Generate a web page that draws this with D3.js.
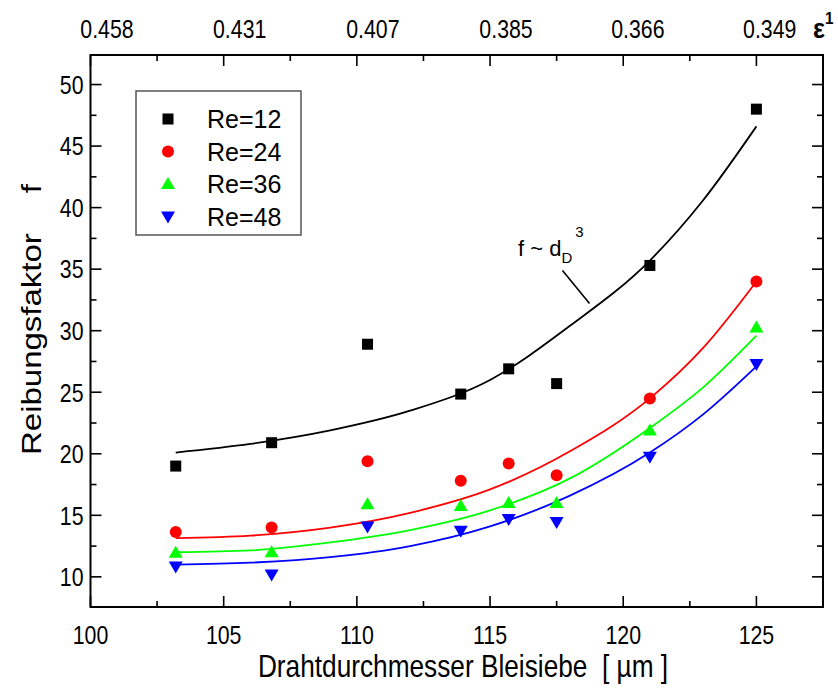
<!DOCTYPE html>
<html><head><meta charset="utf-8">
<script src="https://cdn.jsdelivr.net/npm/d3@7"></script>
<style>
body{margin:0;background:#fff;}
svg{display:block;font-family:"Liberation Sans",Arial,sans-serif;}
</style></head>
<body>
<script>
// ---- data ----
const diameters = [103.2, 106.8, 110.4, 113.9, 115.7, 117.5, 121.0, 125.0];
const re12 = [19.0, 20.9, 28.9, 24.85, 26.9, 25.7, 35.3, 48.0];
const re24 = [13.65, 14.0, 19.4, 17.8, 19.2, 18.25, 24.5, 34.0];
const re36 = [11.95, 12.0, 15.9, 15.75, 16.0, 16.0, 21.9, 30.25];
const re48 = [10.85, 10.2, 14.1, 13.75, 14.7, 14.45, 19.75, 27.3];
const seriesNames = ["Re=12", "Re=24", "Re=36", "Re=48"];
// fitted curves
const fitX = [103.2, 106, 109, 112, 115, 118, 121, 123, 125];
const fit12 = [20.1, 20.8, 21.9, 23.5, 26.0, 30.4, 35.7, 40.6, 46.6];
const fit24 = [13.15, 13.35, 14.0, 15.2, 17.1, 20.2, 24.5, 28.6, 34.0];
const fit36 = [12.0, 12.15, 12.8, 13.8, 15.4, 18.0, 22.1, 25.4, 29.6];
const fit48 = [11.0, 11.15, 11.6, 12.5, 14.1, 16.6, 20.1, 23.2, 27.1];
const xTicks = [100, 105, 110, 115, 120, 125];
const yTicks = [10, 15, 20, 25, 30, 35, 40, 45, 50];
const topTickPos = [100.62, 105.6, 110.6, 115.6, 120.55, 125.5];
const topTickLabels = ["0.458", "0.431", "0.407", "0.385", "0.366", "0.349"];

const W = 838, H = 690;
const L = 90.5, R = 823, T = 55, B = 607;
const SX = 0.82; // horizontal condensing of axis texts
const svg = d3.select("body").append("svg").attr("width", W).attr("height", H);

const x = d3.scaleLinear().domain([100, 127.5]).range([L, R]);
const y = d3.scaleLinear().domain([7.55, 52.4]).range([B, T]);

const colors = ["#000000", "#ff0000", "#00ff00", "#0000ff"];
const data = [re12, re24, re36, re48];
const fits = [fit12, fit24, fit36, fit48];

// fitted curves
const line = d3.line().x(d => x(d[0])).y(d => y(d[1])).curve(d3.curveMonotoneX);
fits.forEach((f, i) => {
  svg.append("path").datum(fitX.map((v, j) => [v, f[j]]))
    .attr("d", line).attr("fill", "none").attr("stroke", colors[i]).attr("stroke-width", 1.8);
});

// markers
function marker(g, type, cx, cy, color) {
  if (type === 0) {
    g.append("rect").attr("x", cx - 5.5).attr("y", cy - 5.5).attr("width", 11).attr("height", 11).attr("fill", color);
  } else if (type === 1) {
    g.append("circle").attr("cx", cx).attr("cy", cy).attr("r", 6).attr("fill", color);
  } else if (type === 2) {
    g.append("path").attr("d", `M${cx},${cy - 7}L${cx + 7},${cy + 5}L${cx - 7},${cy + 5}Z`).attr("fill", color);
  } else {
    g.append("path").attr("d", `M${cx},${cy + 7}L${cx + 7},${cy - 5}L${cx - 7},${cy - 5}Z`).attr("fill", color);
  }
}
const mg = svg.append("g");
data.forEach((s, i) => {
  s.forEach((v, j) => marker(mg, i, x(diameters[j]), y(v), colors[i]));
});

// axes with inward ticks
const minorX = d3.range(102.5, 127.5, 5);
const minorY = d3.range(7.5, 52.5, 5).filter(v => v > 7.55);
const axG = svg.append("g").attr("stroke", "#000").attr("stroke-width", 1.6);
function tick(x1, y1, x2, y2) { axG.append("line").attr("x1", x1).attr("y1", y1).attr("x2", x2).attr("y2", y2); }
xTicks.forEach(v => { tick(x(v), B, x(v), B - 11); tick(x(v), T, x(v), T + 11); });
minorX.forEach(v => { tick(x(v), B, x(v), B - 6); tick(x(v), T, x(v), T + 6); });
yTicks.forEach(v => { tick(L, y(v), L + 11, y(v)); tick(R, y(v), R - 11, y(v)); });
minorY.forEach(v => { tick(L, y(v), L + 6, y(v)); tick(R, y(v), R - 6, y(v)); });
svg.append("rect").attr("x", L).attr("y", T).attr("width", R - L).attr("height", B - T)
  .attr("fill", "none").attr("stroke", "#000").attr("stroke-width", 2);

// tick labels (condensed)
const fs = 26;
function ctext(px, py, str, anchor, size) {
  return svg.append("text").attr("transform", `translate(${px},${py}) scale(${SX},1)`)
    .attr("text-anchor", anchor).attr("font-size", size).text(str);
}
xTicks.forEach(v => ctext(x(v), B + 37, v, "middle", fs));
yTicks.forEach(v => ctext(L - 7, y(v) + 9.3, v, "end", fs));
topTickPos.forEach((v, i) => ctext(x(v), 38, topTickLabels[i], "middle", fs));
const eps = svg.append("text").attr("transform", "translate(813,38) scale(0.9,1)")
  .attr("font-size", 28).attr("font-weight", "bold");
eps.append("tspan").text("ε");
eps.append("tspan").attr("font-size", 17).attr("dy", -14).text("1");

// axis titles
ctext(463, 677, "Drahtdurchmesser Bleisiebe  [ µm ]", "middle", 32).style("white-space", "pre");
const yt = svg.append("text").attr("transform", `translate(41,455) scale(${SX},1) rotate(-90)`)
  .attr("text-anchor", "start").attr("font-size", 33);
yt.append("tspan").text("Reibungsfaktor");
yt.append("tspan").attr("dx", 40).text("f");

// legend
svg.append("rect").attr("x", 136).attr("y", 91).attr("width", 165).attr("height", 144)
  .attr("fill", "#fff").attr("stroke", "#555").attr("stroke-width", 1.5);
seriesNames.forEach((n, i) => {
  const cy = 119 + i * 32.5;
  marker(svg, i, 168, cy, colors[i]);
  svg.append("text").attr("x", 207).attr("y", cy + 9).attr("font-size", 25).text(n);
});

// annotation
const ann = svg.append("text").attr("x", 518).attr("y", 256).attr("font-size", 22);
ann.append("tspan").text("f ~ d");
ann.append("tspan").attr("font-size", 15).attr("dy", 7).text("D");
ann.append("tspan").attr("font-size", 15).attr("dx", 3).attr("dy", -26).text("3");
svg.append("line").attr("x1", 562.5).attr("y1", 270.5).attr("x2", 589.5).attr("y2", 303.5)
  .attr("stroke", "#000").attr("stroke-width", 1.6);
</script>
</body></html>
